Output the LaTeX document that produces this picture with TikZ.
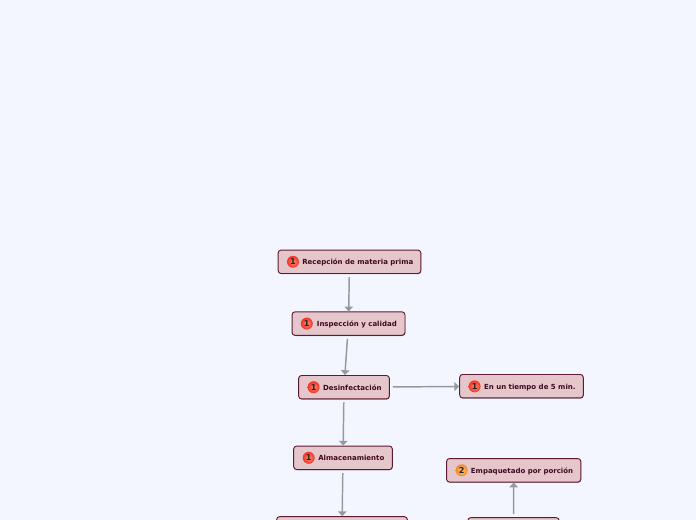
\documentclass[tikz,border=0pt]{standalone}
\usepackage{fontspec}
\setmainfont{DejaVu Sans}
\usetikzlibrary{arrows.meta,shadows}
\definecolor{pagebg}{HTML}{F3F6FF}
\definecolor{boxfill}{HTML}{E5C6CB}
\definecolor{boxline}{HTML}{5E1A33}
\definecolor{boxtext}{HTML}{3F0A1E}
\definecolor{linkgrey}{HTML}{96999E}
\definecolor{redin}{HTML}{FF8A70}
\definecolor{redout}{HTML}{EE3528}
\definecolor{orin}{HTML}{FFC870}
\definecolor{orout}{HTML}{F08A28}
\tikzset{
  x=0.75pt,y=-0.75pt,
  topicbox/.style={draw=boxline,line width=0.7pt,fill=boxfill,rounded corners=2.2pt,inner sep=0pt,
    text=boxtext,font=\fontsize{5.25pt}{6pt}\selectfont\bfseries,text height=5pt,text depth=0.5pt,
    drop shadow={shadow xshift=0.3pt,shadow yshift=-0.5pt,opacity=0.4,fill=black}},
  link/.style={draw=linkgrey,line width=1.1pt,-{Triangle[length=3.6pt,width=6.4pt]},shorten <=2.3pt},
  badge/.style={circle,minimum size=9pt,inner sep=0pt,text=black!85,font=\fontsize{6.1pt}{6pt}\selectfont\bfseries},
  redbadge/.style={badge,inner color=redin,outer color=redout},
  orangebadge/.style={badge,inner color=orin,outer color=orout}
}
\newcommand{\boxlabel}[1]{\hspace*{12.5pt}#1}
\begin{document}
\begin{tikzpicture}
\useasboundingbox (0,0) rectangle (696,520);
\clip (0,0) rectangle (696,520);
\fill[pagebg] (0,0) rectangle (696,520);
\node[topicbox,minimum width=107pt,minimum height=17.6pt] (rec) at (349.5,261.8) {\boxlabel{Recepción de materia prima}};
\node[topicbox,minimum width=84.7pt,minimum height=17.6pt] (ins) at (348.5,323.6) {\boxlabel{Inspección y calidad}};
\node[topicbox,minimum width=68pt,minimum height=17.6pt] (des) at (344,387.2) {\boxlabel{Desinfectación}};
\node[topicbox,minimum width=92.7pt,minimum height=17.6pt] (tie) at (521.5,386.2) {\boxlabel{En un tiempo de 5 min.}};
\node[topicbox,minimum width=74pt,minimum height=17.6pt] (alm) at (343,457.8) {\boxlabel{Almacenamiento}};
\node[topicbox,minimum width=100.7pt,minimum height=17.6pt] (emp) at (513.7,470.3) {\boxlabel{Empaquetado por porción}};
\node[topicbox,minimum width=98pt,minimum height=17.6pt] (low) at (342,528.4) {};
\node[topicbox,minimum width=68.5pt,minimum height=17.6pt] (lor) at (513.5,529.4) {};
\node[redbadge] (b1) at (293,261.8) {1};
\node[redbadge] (b2) at (306.8,323.6) {1};
\node[redbadge] (b3) at (313.6,387.2) {1};
\node[redbadge] (b4) at (474.6,386.4) {1};
\node[redbadge] (b5) at (308.7,457.8) {1};
\node[orangebadge] (b6) at (461.6,470.3) {2};
\draw[link] (rec) -- (ins);
\draw[link] (ins) -- (des);
\draw[link] (des) -- (tie);
\draw[link] (des) -- (alm);
\draw[link] (alm) -- (low);
\draw[link] (lor) -- (emp);
\end{tikzpicture}
\end{document}
